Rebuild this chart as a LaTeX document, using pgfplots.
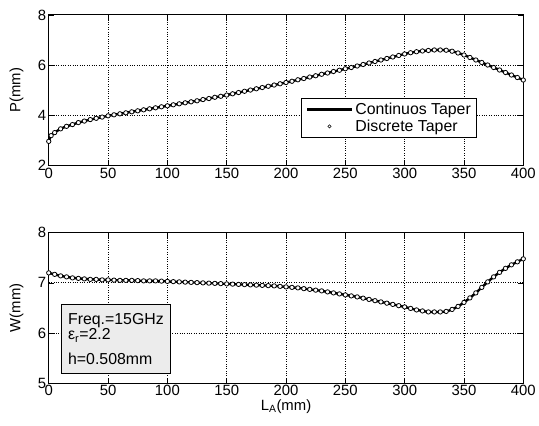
\documentclass[border=0pt]{standalone}
\usepackage{pgfplots}
\pgfplotsset{compat=1.18}
\usepackage{pgfplotstable}
\usepackage{fontspec}
\setmainfont{Liberation Sans}
\pgfplotstableread{
x P
0 2.95
2 3.18
5 3.30
10 3.45
15 3.55
20 3.62
25 3.70
30 3.76
35 3.82
40 3.87
45 3.92
50 3.97
55 4.01
60 4.05
65 4.09
70 4.13
75 4.17
80 4.21
85 4.25
90 4.29
95 4.33
100 4.37
105 4.41
110 4.45
115 4.49
120 4.53
125 4.57
130 4.62
135 4.66
140 4.71
145 4.75
150 4.80
155 4.85
160 4.90
165 4.95
170 5.00
175 5.05
180 5.10
185 5.15
190 5.20
195 5.25
200 5.30
205 5.35
210 5.41
215 5.46
220 5.52
225 5.57
230 5.63
235 5.68
240 5.74
245 5.79
250 5.85
255 5.90
260 5.96
265 6.02
270 6.08
275 6.14
280 6.20
285 6.26
290 6.32
295 6.38
300 6.44
305 6.49
310 6.53
315 6.56
320 6.58
325 6.60
330 6.60
335 6.59
340 6.55
345 6.48
350 6.40
355 6.30
360 6.20
365 6.10
370 6.00
375 5.90
380 5.80
385 5.70
390 5.60
395 5.50
400 5.40
}\Ptable
\pgfplotstableread{
x W
0 7.20
5 7.17
10 7.14
15 7.12
20 7.10
25 7.09
30 7.08
35 7.07
40 7.07
45 7.06
50 7.06
55 7.055
60 7.05
65 7.05
70 7.05
75 7.045
80 7.04
85 7.04
90 7.04
95 7.035
100 7.03
105 7.025
110 7.02
115 7.015
120 7.01
125 7.005
130 7.00
135 6.995
140 6.99
145 6.985
150 6.98
155 6.975
160 6.97
165 6.965
170 6.96
175 6.955
180 6.95
185 6.945
190 6.94
195 6.93
200 6.92
205 6.91
210 6.90
215 6.885
220 6.87
225 6.855
230 6.84
235 6.82
240 6.80
245 6.78
250 6.76
255 6.74
260 6.72
265 6.695
270 6.67
275 6.645
280 6.62
285 6.595
290 6.57
295 6.545
300 6.52
305 6.49
310 6.46
315 6.44
320 6.42
325 6.42
330 6.42
335 6.43
340 6.47
345 6.53
350 6.61
355 6.70
360 6.80
365 6.91
370 7.02
375 7.12
380 7.21
385 7.29
390 7.36
395 7.42
400 7.48
}\Wtable
\pgfplotsset{
  mystyle/.style={
    scale only axis,
    width=477bp, height=151bp,
    xmin=0, xmax=400,
    xtick={0,50,...,400},
    grid=major,
    major grid style={black, dotted, line width=0.9pt},
    tick align=inside,
    major tick length=5bp,
    axis line style={line width=0.9pt},
    every tick/.style={black, line width=0.7pt},
    tick label style={font=\fontsize{15}{17}\selectfont},
    /pgf/number format/assume math mode=true,
    xticklabel style={yshift=1bp},
    yticklabel style={xshift=1bp},
    ylabel style={font=\fontsize{15}{17}\selectfont, at={(axis description cs:-0.046,0.5)}, anchor=south},
    xlabel style={font=\fontsize{15}{17}\selectfont, yshift=3bp},
  },
  lineplot/.style={black, line width=2.4pt, no markers},
  dotplot/.style={only marks, mark=*, mark size=2.2pt, mark options={draw=black, fill=white, line width=0.8pt}},
}
\begin{document}
\begin{tikzpicture}
\path (-49bp,-262bp) rectangle (490bp,166bp);
\begin{axis}[mystyle,
  ymin=2, ymax=8, ytick={2,4,6,8},
  ylabel={P(mm)},
  legend style={at={(0.532,0.45)}, anchor=north west, font=\fontsize{16}{18}\selectfont, draw=black, line width=0.9pt, row sep=0bp, inner xsep=4bp, inner ysep=3bp},
  legend cell align=left,
]
\addplot[lineplot, smooth, legend image code/.code={\draw[black, line width=3pt] (0bp,0bp) -- (45bp,0bp);}] table[x=x,y=P] {\Ptable};
\addlegendentry{Continuos Taper}
\addplot[dotplot, legend image code/.code={\draw[black, fill=white, line width=0.6pt] (22.5bp,0bp) circle (1.6pt);}] table[x=x,y=P] {\Ptable};
\addlegendentry{Discrete Taper}
\end{axis}
\begin{axis}[mystyle, at={(0,-219bp)},
  ymin=5, ymax=8, ytick={5,6,7,8},
  ylabel={W(mm)},
  xlabel={L\textsubscript{A}(mm)},
]
\addplot[lineplot, smooth] table[x=x,y=W] {\Wtable};
\addplot[dotplot] table[x=x,y=W] {\Wtable};
\node[anchor=north west, draw=black, line width=0.9pt, fill=gray!15, align=left, font=\fontsize{16}{14}\selectfont, inner xsep=7bp, inner ysep=5bp, minimum width=110bp, minimum height=69bp, text width=96bp] at (axis cs:10.1,6.575)
  {Freq.=15GHz\\ ε\textsubscript{r}=2.2\\[10bp] h=0.508mm};
\end{axis}
\end{tikzpicture}
\end{document}
